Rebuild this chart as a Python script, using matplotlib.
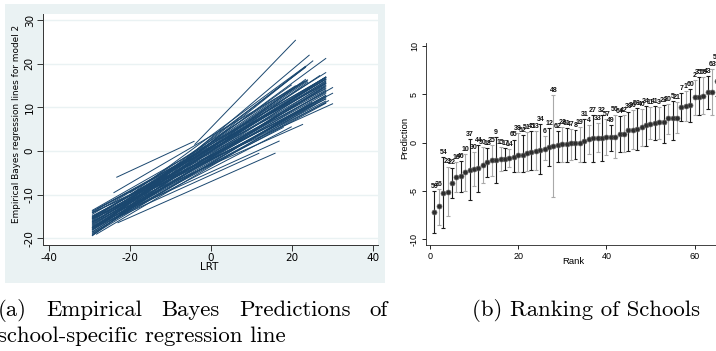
import matplotlib
matplotlib.use("Agg")
import matplotlib.pyplot as plt
from matplotlib.patches import Rectangle
import numpy as np

plt.rcParams["axes.unicode_minus"] = False

# ---------------- Panel (a): school-specific EB regression lines ----------------
line_xmin = [-29.3, -29.3, -29.3, -29.3, -29.3, -29.3, -29.3, -29.3, -29.3, -29.3,
             -29.3, -29.3, -29.3, -29.3, -29.3, -29.3, -29.3, -29.3, -29.3, -29.3,
             -29.3, -29.3, -29.3, -29.3, -29.3,
             -29.3, -28.3, -29.3, -27.0, -26.0, -23.0, -22.0, -29.3, -28.3, -29.3,
             -25.0, -29.3, -24.0, -29.3,
             -4.0, -23.0, -24.0, -29.3, -22.0, -25.0, -20.0, -29.3, -24.0, -23.3,
             -27.0, -29.3, -22.0, -24.0, -26.0, -28.0, -20.0,
             -29.3, -29.3, -28.0, -29.3, -29.3, -27.0, -29.3, -29.3, -24.0]
line_xmax = [28.5, 28.5, 28.5, 28.5, 28.5, 28.5, 28.5, 28.5, 28.5, 28.5,
             28.5, 28.5, 28.5, 28.5, 28.5, 28.5, 28.5, 28.5, 28.5, 28.5,
             28.5, 28.5, 28.5, 28.5, 28.5,
             30.2, 29.2, 30.2, 22.8, 17.0, 16.0, 12.0, 28.5, 26.0, 28.5,
             20.0, 28.5, 18.0, 25.0,
             21.0, 24.4, 25.3, 28.5, 23.5, 23.5, 23.5, 23.5, 24.0, -4.0,
             23.5, 24.0, 20.0, 23.0, 22.0, 24.0, 21.0,
             28.5, 30.2, 28.5, 27.0, 28.5, 28.5, 28.5, 28.0, 28.5]
line_b0 = [1.86, 0.95, 1.47, -0.30, 0.82, -0.09, 0.73, -1.30, -0.13, -0.93,
           0.03, -2.19, -1.07, -1.83, -0.76, -1.62, -2.78, -1.51, -0.92, -1.86,
           0.45, -2.10, -3.30, 0.67, -0.01,
           -1.8, -3.0, -1.2, -3.2, -4.8, -7.0, -5.5, -2.5, -3.5, -2.0,
           -4.0, -1.5, -3.0, -2.8,
           5.3, 3.0, 2.0, 1.9, 2.8, 2.5, 3.5, 0.5, 3.4, 4.0,
           1.5, 0.0, 2.0, 1.0, 1.8, 0.8, 2.4,
           0.1, -1.1, 1.1, 0.6, -0.5, 0.3, 1.5, -1.6, 0.9]
line_b1 = [0.528, 0.510, 0.545, 0.502, 0.550, 0.536, 0.571, 0.509, 0.559, 0.542,
           0.581, 0.516, 0.564, 0.548, 0.595, 0.576, 0.547, 0.597, 0.453, 0.469,
           0.486, 0.495, 0.502, 0.538, 0.597,
           0.42, 0.50, 0.48, 0.41, 0.42, 0.41, 0.42, 0.52, 0.55, 0.46,
           0.48, 0.50, 0.47, 0.56,
           0.96, 0.78, 0.74, 0.68, 0.70, 0.72, 0.68, 0.68, 0.54, 0.43,
           0.62, 0.66, 0.66, 0.65, 0.62, 0.64, 0.60,
           0.59, 0.52, 0.51, 0.62, 0.49, 0.57, 0.58, 0.58, 0.55]

# ---------------- Panel (b): ranking of schools ----------------
rank = list(range(1, 66))
school_id = [59, 26, 54, 23, 22, 16, 46, 10, 37, 30,
             44, 50, 18, 25, 9, 15, 17, 14, 65, 38,
             52, 51, 45, 13, 34, 6, 12, 48, 62, 28,
             61, 47, 8, 19, 31, 4, 27, 33, 32, 57,
             49, 56, 64, 42, 39, 36, 58, 40, 24, 11,
             41, 3, 29, 20, 5, 21, 7, 1, 60, 2,
             35, 55, 43, 63, 53]
pred = [-7.15, -6.6, -5.2, -5.1, -4.15, -3.6, -3.5, -3.1, -2.85, -2.7,
        -2.65, -2.3, -2.05, -1.85, -1.8, -1.75, -1.7, -1.6, -1.5, -1.3,
        -1.25, -1.1, -0.95, -0.85, -0.75, -0.65, -0.5, -0.4, -0.3, -0.2,
        -0.15, -0.1, -0.1, -0.05, 0.15, 0.4, 0.45, 0.5, 0.5, 0.55,
        0.55, 0.6, 0.85, 0.9, 1.25, 1.3, 1.4, 1.6, 1.8, 1.95,
        2.05, 2.1, 2.15, 2.5, 2.5, 2.55, 3.7, 3.8, 3.85, 4.7,
        4.75, 4.85, 5.2, 5.25, 6.4]
upper = [-5.0, -4.8, -1.5, -2.5, -2.6, -2.0, -1.9, -1.2, 0.35, -1.0,
         -0.3, -0.5, -0.6, -0.3, 0.6, -0.5, -0.6, -0.7, 0.3, 1.0,
         0.8, 1.1, 1.2, 1.2, 1.9, 0.7, 1.5, 4.9, 1.2, 1.6,
         1.5, 1.4, 1.3, 1.6, 2.4, 1.8, 2.8, 2.0, 2.8, 2.4,
         1.8, 2.9, 2.7, 2.8, 3.2, 3.4, 3.6, 3.5, 3.8, 3.7,
         3.8, 3.7, 3.9, 4.0, 4.3, 4.2, 5.1, 5.3, 5.5, 6.5,
         6.8, 6.8, 6.9, 7.6, 8.3]
lower = [-9.4, -8.5, -8.9, -7.6, -5.7, -5.1, -5.1, -5.0, -6.0, -4.5,
         -5.1, -4.2, -3.6, -3.5, -4.2, -3.0, -2.9, -2.5, -3.1, -3.1,
         -3.1, -3.0, -2.9, -2.8, -3.3, -1.8, -2.4, -5.6, -2.0, -2.0,
         -2.0, -1.8, -1.7, -2.0, -2.0, -1.2, -2.0, -1.0, -1.9, -1.3,
         -0.9, -1.6, -1.0, -1.0, -0.9, -0.7, -0.8, -0.4, -0.4, 0.4,
         0.3, 0.4, 0.0, 0.9, 0.3, 1.0, 2.2, 2.2, 2.1, 2.9,
         2.9, 3.0, 3.5, 2.9, 4.8]

caption_a1 = ["(a)", "Empirical", "Bayes", "Predictions", "of"]
caption_a2 = "school-specific regression line"
caption_b = "(b) Ranking of Schools"

# ---------------- figure ----------------
W, H = 716, 351
fig = plt.figure(figsize=(W / 100, H / 100), dpi=100)
fig.patch.set_facecolor("white")


def fx(px):
    return px / W


def fy(py):
    return 1 - py / H


# Stata-like outer background for panel (a)
fig.patches.append(Rectangle((fx(5), fy(283)), fx(385) - fx(5), fy(4) - fy(283),
                             transform=fig.transFigure, facecolor="#EAF2F3",
                             edgecolor="none", zorder=-5))

ax1 = fig.add_axes([fx(43), fy(245), fx(378) - fx(43), fy(14) - fy(245)])
ax1.set_zorder(2)
ax1.set_facecolor("white")
for x0, x1, b0, b1 in zip(line_xmin, line_xmax, line_b0, line_b1):
    xs = np.array([x0, x1])
    ax1.plot(xs, b0 + b1 * xs, color="#1a476f", lw=0.7, solid_capstyle="butt")
ax1.set_xlim(-41.4, 41.3)
ax1.set_ylim(-21.5, 31.4)
ax1.set_xticks([-40, -20, 0, 20, 40])
ax1.set_yticks([-20, -10, 0, 10, 20, 30])
ax1.yaxis.grid(True, color="#EAF2F3", lw=1.0)
ax1.set_axisbelow(True)
for s in ["top", "right"]:
    ax1.spines[s].set_visible(False)
for s in ["left", "bottom"]:
    ax1.spines[s].set_color("#333333")
    ax1.spines[s].set_linewidth(0.7)
ax1.tick_params(axis="both", direction="out", length=4, width=0.7, color="#333333",
                labelsize=7.5, pad=2)
ax1.tick_params(axis="y", labelrotation=90)
for t in ax1.get_yticklabels():
    t.set_va("center")
ax1.set_xlabel("LRT", fontsize=7.5)
ax1.set_ylabel("Empirical Bayes regression lines for model 2", fontsize=6.4)
ax1.xaxis.set_label_coords(fx(209), fy(267), transform=fig.transFigure)
ax1.xaxis.label.set_va("center")
ax1.yaxis.set_label_coords(fx(17), fy(124), transform=fig.transFigure)
ax1.yaxis.label.set_va("center")

# Panel (b)
xl, xr = -0.9, 67.0
ax2 = fig.add_axes([fx(426), fy(245), (xr - xl) * 4.41 / W, (245 - 43) / H])
ax2.set_facecolor("none")
bar_cols = ["#1c1c1c" if r % 2 == 1 else "#a9a9a9" for r in rank]
rk = np.array(rank, dtype=float)
ax2.vlines(rk, lower, upper, colors=bar_cols, lw=0.8, zorder=2)
ax2.hlines(upper, rk - 0.45, rk + 0.45, colors=bar_cols, lw=0.8, zorder=2)
ax2.hlines(lower, rk - 0.45, rk + 0.45, colors=bar_cols, lw=0.8, zorder=2)
ax2.plot(rk, pred, "o", ms=3.6, mfc="#2e2e2e", mec="#666666", mew=0.5, zorder=3)
for r, u, sid in zip(rank, upper, school_id):
    ax2.text(r, u + 0.12, str(sid), ha="center", va="bottom", fontsize=5.0,
             fontweight="bold", family="Liberation Sans", color="#111111",
             clip_on=False, zorder=4)
ax2.set_xlim(xl, xr)
ax2.set_ylim(-10.62, 10.31)
ax2.set_xticks([0, 20, 40, 60])
ax2.set_yticks([-10, -5, 0, 5, 10])
for s in ["top", "right"]:
    ax2.spines[s].set_visible(False)
for s in ["left", "bottom"]:
    ax2.spines[s].set_color("#222222")
    ax2.spines[s].set_linewidth(0.6)
ax2.tick_params(axis="both", direction="out", length=3, width=0.6, labelsize=6.5, pad=2)
ax2.tick_params(axis="y", labelrotation=90)
for t in ax2.get_xticklabels() + ax2.get_yticklabels():
    t.set_family("Liberation Sans")
for t in ax2.get_yticklabels():
    t.set_va("center")
ax2.set_xlabel("Rank", fontsize=6.8, family="Liberation Sans")
ax2.set_ylabel("Prediction", fontsize=6.8, family="Liberation Sans")
ax2.xaxis.set_label_coords(fx(573), fy(262), transform=fig.transFigure)
ax2.xaxis.label.set_va("center")
ax2.yaxis.set_label_coords(fx(405), fy(138), transform=fig.transFigure)
ax2.yaxis.label.set_va("center")

# Captions (LaTeX-like serif)
cap_kw = dict(fontfamily="cmr10", fontsize=16.4, va="baseline", color="black")
fig.canvas.draw()
rend = fig.canvas.get_renderer()
words = [fig.text(0, fy(316), w, **cap_kw) for w in caption_a1]
widths = [t.get_window_extent(rend).width for t in words]
x_start, x_end = -2.0, 388.0
gap = (x_end - x_start - sum(widths)) / (len(words) - 1)
xpos = x_start
for t, w in zip(words, widths):
    t.set_x(fx(xpos))
    xpos += w + gap
fig.text(fx(-2), fy(342), caption_a2, **cap_kw)
fig.text(fx(472), fy(316), caption_b, **cap_kw)

fig.savefig("out.png", dpi=100)
